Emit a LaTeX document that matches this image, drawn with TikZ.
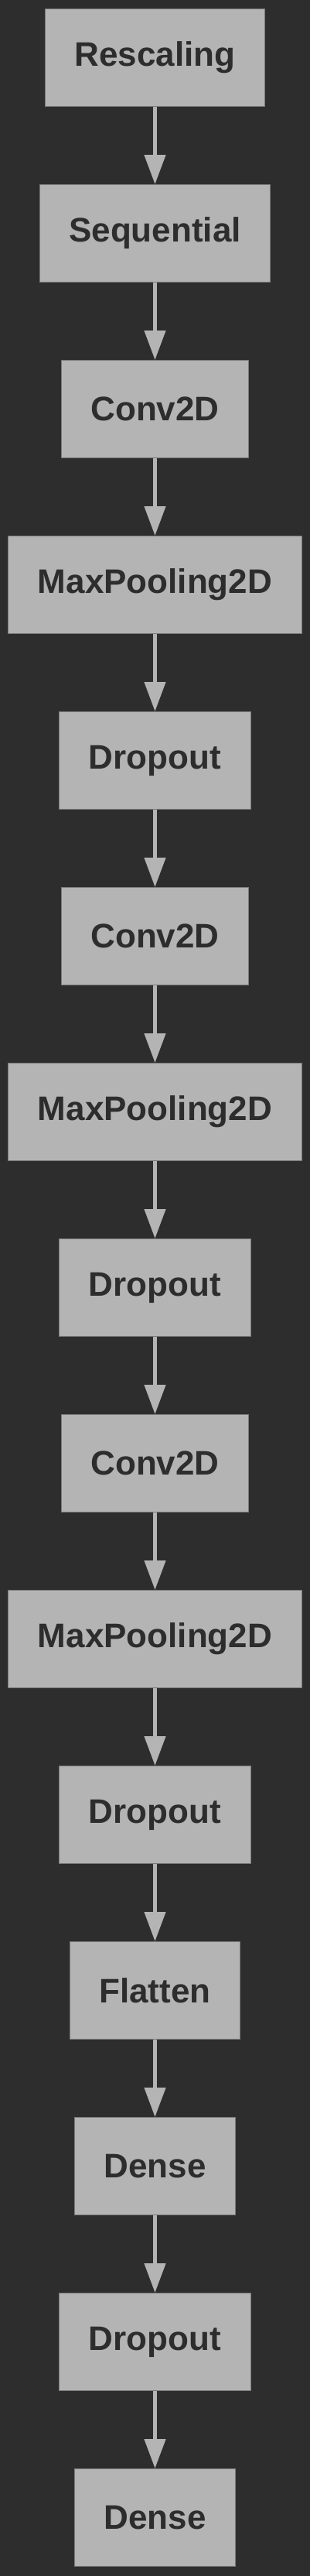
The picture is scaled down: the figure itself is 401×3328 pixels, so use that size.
\documentclass[tikz,border=0pt]{standalone}
\usepackage{fontspec}
\setmainfont{Liberation Sans}
\usepackage{tikz}
\usepackage{xcolor}
\usetikzlibrary{backgrounds}
\usetikzlibrary{positioning, fit, arrows.meta}

\definecolor{bgdark}{HTML}{2D2D2D}
\definecolor{boxgray}{HTML}{B4B4B4}
\definecolor{edgegray}{HTML}{7A7A7A}

\begin{document}
\begin{tikzpicture}[x=1pt, y=1pt, node distance={100pt},
                        layer/.style = {draw=edgegray, line width=1pt, fill=boxgray, text=bgdark, inner xsep=38pt, minimum height=126pt, font=\fontsize{44}{50}\selectfont\bfseries},
                        link/.style = {draw=boxgray, line width=4.5pt, -{Triangle[length=38pt, width=27pt]}}]
                        \fill[bgdark] (0,0) rectangle (401,-3328);
                        \useasboundingbox (0,0) rectangle (401,-3328);
                        \node[layer] (rescaling) at (200.5,-74.5) {Rescaling};
                        \node[layer] (seq) [below=of rescaling] {Sequential};
                        \node[layer] (conv1) [below=of seq] {Conv2D};
                        \node[layer] (pool1) [below=of conv1] {MaxPooling2D};
                        \node[layer] (drop1) [below=of pool1] {Dropout};
                        \node[layer] (conv2) [below=of drop1] {Conv2D};
                        \node[layer] (pool2) [below=of conv2] {MaxPooling2D};
                        \node[layer] (drop2) [below=of pool2] {Dropout};
                        \node[layer] (conv3) [below=of drop2] {Conv2D};
                        \node[layer] (pool3) [below=of conv3] {MaxPooling2D};
                        \node[layer] (drop3) [below=of pool3] {Dropout};
                        \node[layer] (flat) [below=of drop3] {Flatten};
                        \node[layer] (dense1) [below=of flat] {Dense};
                        \node[layer] (drop4) [below=of dense1] {Dropout};
                        \node[layer] (dense2) [below=of drop4] {Dense};
                        \draw[link] (rescaling) -- (seq);
                        \draw[link] (seq) -- (conv1);
                        \draw[link] (conv1) -- (pool1);
                        \draw[link] (pool1) -- (drop1);
                        \draw[link] (drop1) -- (conv2);
                        \draw[link] (conv2) -- (pool2);
                        \draw[link] (pool2) -- (drop2);
                        \draw[link] (drop2) -- (conv3);
                        \draw[link] (conv3) -- (pool3);
                        \draw[link] (pool3) -- (drop3);
                        \draw[link] (drop3) -- (flat);
                        \draw[link] (flat) -- (dense1);
                        \draw[link] (dense1) -- (drop4);
                        \draw[link] (drop4) -- (dense2);
                    \end{tikzpicture}
\end{document}
